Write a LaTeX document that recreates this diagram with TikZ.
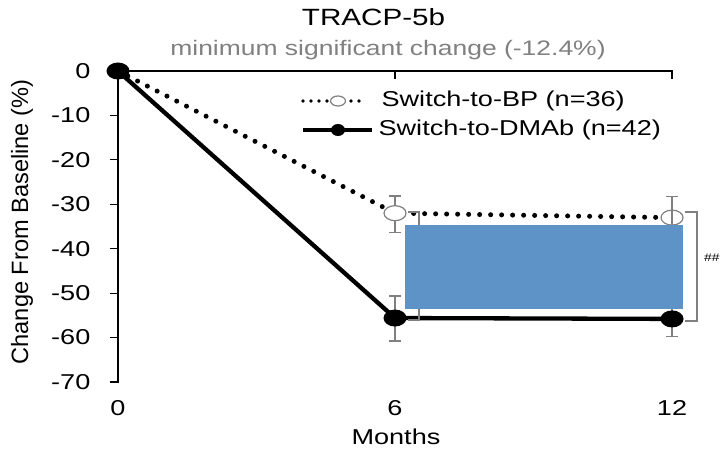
\documentclass[tikz,border=0pt]{standalone}
\usepackage{fontspec}
\setmainfont{Liberation Sans}
\usepackage{graphicx}
\usepackage{xcolor}
\usepackage{tikz}
\usetikzlibrary{arrows.meta,shapes.geometric}
\definecolor{boxblue}{RGB}{94,147,199}
\definecolor{msc}{RGB}{128,128,128}
\newcommand{\wide}[1]{\scalebox{1.26}[1]{#1}}

\begin{document}
\begin{tikzpicture}[x=46.17pt, y=4.443pt, semithick,
	every node/.style={font=\fontsize{21.5}{24}\selectfont}]

		\tikzstyle{dmab}=[ellipse,fill=black,inner sep=0pt,minimum width=23pt,minimum height=17pt]
		\tikzstyle{bp}=[ellipse,draw=msc,fill=white,line width=1.2pt,inner sep=0pt,minimum width=22pt,minimum height=15pt]
		\tikzstyle{errbar}=[draw=msc,line width=1.6pt,{Bar[width=12pt]}-{Bar[width=12pt]}]
		\tikzstyle{bracket}=[draw=msc,line width=2.2pt]
		\tikzstyle{solidline}=[line width=4.3pt]
		\tikzstyle{dotline}=[line width=5pt,line cap=round,dash pattern=on 0pt off 11pt]
		\tikzstyle{axis}=[line width=1.2pt]

		\useasboundingbox (-2.5558,15.98) rectangle (13.082,-85.08);

		% axes
		\draw[axis] (12,-1.8) -- (12,0) -- (0,0) -- (0,-70) -- (-0.173,-70);
		\draw[axis] (6,0) -- (6,-1.8);
		\foreach \v in {-10,-20,...,-60}
			\draw[axis] (0,\v) -- (-0.173,\v);
		\foreach \v in {0,-10,...,-70}
			\node[anchor=east] at (-0.52,\v) {\wide{\v}};
		\foreach \m in {0,6,12}
			\node at (\m,-75.85) {\wide{\m}};
		\node (months) at (6.02,-82.38) {\wide{Months}};
		\node[rotate=90,font=\fontsize{23.6}{28}\selectfont] (ylab) at (-2.08,-33.99) {Change From Baseline (\%)};

		% data
		\coordinate (bp0) at (0,0);
		\coordinate (bp6) at (6,-32);
		\coordinate (bp12) at (12,-33);
		\coordinate (dm0) at (0,0);
		\coordinate (dm6) at (6,-55.6);
		\coordinate (dm12) at (12,-55.8);

		\draw[errbar] (6,-27.9) -- (6,-36.5);
		\draw[errbar] (6,-50.4) -- (6,-61.0);
		\draw[errbar] (12,-51.7) -- (12,-59.9);

		\draw[dotline] (bp0) -- (bp6) -- (bp12);
		\draw[solidline] (dm0) -- (dm6) -- (dm12);

		\node[bp] (B6) at (bp6) {};
		\node[bp] (B12) at (bp12) {};
		\node[dmab] (D0) at (dm0) {};
		\node[dmab] (D6) at (dm6) {};
		\node[dmab] (D12) at (dm12) {};

		\draw[errbar] (12,-28.1) -- (12,-37.8);

		% brackets and box
		\draw[bracket] (6.281,-31.74) -- (6.519,-31.74) -- (6.519,-56.04) -- (6.281,-56.04);
		\draw[bracket] (12.281,-31.74) -- (12.541,-31.74) -- (12.541,-56.27) -- (12.281,-56.27);
		\fill[boxblue] (6.216,-34.66) rectangle (12.237,-53.57);
		\node[anchor=west,inner sep=0pt,font=\fontsize{11}{13}\selectfont] (sig) at (12.69,-42.09) {\wide{\#\#}};

		% legend
		\coordinate (lbpA) at (4.007,-6.752);
		\coordinate (lbpB) at (5.393,-6.752);
		\coordinate (ldmA) at (4.007,-13.28);
		\coordinate (ldmB) at (5.501,-13.28);
		\draw[line width=3.8pt,line cap=round,dash pattern=on 0pt off 8pt] (lbpA) -- (lbpB);
		\draw[solidline] (ldmA) -- (ldmB);
		\node[bp,minimum width=15pt,minimum height=10pt] (lbp) at (4.765,-6.752) {};
		\node[dmab,minimum width=14pt,minimum height=12pt] (ldm) at (4.765,-13.28) {};
		\node[anchor=west] (tbp) at (5.631,-6.752) {\wide{Switch-to-BP (n=36)}};
		\node[anchor=west] (tdm) at (5.566,-13.28) {\wide{Switch-to-DMAb (n=42)}};

		% titles
		\node[anchor=base,font=\fontsize{23.5}{28}\selectfont] (title) at (5.534,10.13) {\wide{TRACP-5b}};
		\node[anchor=base,text=msc,font=\fontsize{21}{24}\selectfont] (msc) at (5.848,3.376) {\wide{minimum significant change (-12.4\%)}};

	\end{tikzpicture}
\end{document}
